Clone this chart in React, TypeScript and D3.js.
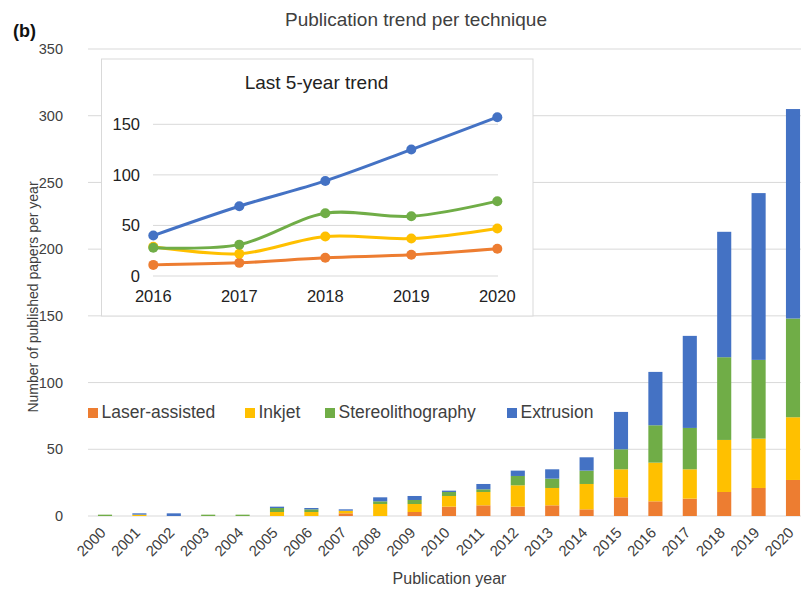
import React, { useMemo } from 'react';
import * as d3 from 'd3';

const years = d3.range(2000, 2021).map(String);
const laser = [0, 0, 0, 0, 0, 0, 0, 2, 0, 3, 7, 8, 7, 8, 5, 14, 11, 13, 18, 21, 27];
const inkjet = [0, 1, 0, 0, 0, 3, 3, 2, 9, 6, 8, 10, 16, 13, 19, 21, 29, 22, 39, 37, 47];
const stereo = [1, 0, 0, 1, 1, 3, 2, 0, 2, 3, 3, 2, 7, 7, 10, 15, 28, 31, 62, 59, 74];
const extrusion = [0, 1, 2, 0, 0, 1, 1, 1, 3, 3, 1, 4, 4, 7, 10, 28, 40, 69, 94, 125, 157];

const seriesNames = ['Laser-assisted', 'Inkjet', 'Stereolithography', 'Extrusion'];
const seriesColors = ['#ED7D31', '#FFC000', '#70AD47', '#4472C4'];
const mainTicks = [0, 50, 100, 150, 200, 250, 300, 350];
const insetTicks = [0, 50, 100, 150];
const insetYears = years.slice(-5);

const FONT = '"Liberation Sans", Arial, Helvetica, sans-serif';
const TEXT = '#404040';
const GRID = '#d9d9d9';

const App = () => {
  const W = 801;
  const H = 592;

  const { x, y, stacked } = useMemo(() => {
    const table = years.map((yr, i) => ({
      year: yr,
      'Laser-assisted': laser[i],
      Inkjet: inkjet[i],
      Stereolithography: stereo[i],
      Extrusion: extrusion[i],
    }));
    const xScale = d3.scaleBand()
      .domain(years)
      .range([87.8, 810.2])
      .paddingInner(0.59)
      .paddingOuter(0.295);
    const yScale = d3.scaleLinear().domain([0, 350]).range([516, 49]);
    const st = d3.stack().keys(seriesNames)(table as any);
    return { x: xScale, y: yScale, stacked: st };
  }, []);

  // inset scales
  const ix = d3.scalePoint().domain(insetYears).range([153.3, 497.3]);
  const iy = d3.scaleLinear().domain([0, 150]).range([276, 124.3]);
  const insetSeries = [laser, inkjet, stereo, extrusion].map(s => s.slice(-5));
  const line = d3.line<number>()
    .x((_, i) => ix(insetYears[i]) as number)
    .y(d => iy(d))
    .curve(d3.curveCatmullRom.alpha(0.5));

  const legendX = [88, 245, 325, 507];

  return (
    <svg width={W} height={H} style={{ position: 'absolute', left: 0, top: 0, fontFamily: FONT }}>
      <rect width={W} height={H} fill="#fff" />

      {/* titles */}
      <text x={13} y={37} fontSize={18} fontWeight="bold" fill="#111">(b)</text>
      <text x={416} y={26} fontSize={19} textAnchor="middle" fill={TEXT}>Publication trend per technique</text>

      {/* gridlines + y ticks */}
      {mainTicks.map(t => (
        <g key={t}>
          <line x1={88} x2={W} y1={y(t)} y2={y(t)} stroke={GRID} strokeWidth={1} />
          <text x={63} y={y(t)} dy="0.35em" fontSize={14.5} textAnchor="end" fill={TEXT}>{t}</text>
        </g>
      ))}

      <text transform="translate(38,297) rotate(-90)" fontSize={14} textAnchor="middle" fill={TEXT}>
        Number of published papers per year
      </text>

      {/* stacked bars */}
      {stacked.map((layer, si) => (
        <g key={seriesNames[si]} fill={seriesColors[si]}>
          {layer.map((d, i) => (
            <rect
              key={years[i]}
              x={x(years[i])}
              width={x.bandwidth()}
              y={y(d[1])}
              height={Math.max(0, y(d[0]) - y(d[1]))}
            />
          ))}
        </g>
      ))}

      {/* x tick labels */}
      {years.map(yr => {
        const cx = (x(yr) as number) + x.bandwidth() / 2;
        return (
          <text key={yr} transform={`translate(${cx - 2},530) rotate(-45)`} dy="0.35em"
            fontSize={15} textAnchor="end" fill={TEXT}>{yr}</text>
        );
      })}
      <text x={449.5} y={584} fontSize={16} textAnchor="middle" fill={TEXT}>Publication year</text>

      {/* legend */}
      {seriesNames.map((name, i) => (
        <g key={name}>
          <rect x={legendX[i]} y={408} width={10} height={10} fill={seriesColors[i]} />
          <text x={legendX[i] + 13.5} y={418} fontSize={17.5} fill={TEXT}>{name}</text>
        </g>
      ))}

      {/* inset */}
      <rect x={101.5} y={59} width={431.5} height={257} fill="#fff" stroke={GRID} strokeWidth={1} />
      <text x={316.5} y={89} fontSize={19} textAnchor="middle" fill="#222">Last 5-year trend</text>
      {insetTicks.map(t => (
        <g key={t}>
          <line x1={153} x2={498} y1={iy(t)} y2={iy(t)} stroke={GRID} strokeWidth={1} />
          <text x={140} y={iy(t)} dy="0.35em" fontSize={16.5} textAnchor="end" fill="#222">{t}</text>
        </g>
      ))}
      {insetYears.map(yr => (
        <text key={yr} x={ix(yr)} y={302} fontSize={16.5} textAnchor="middle" fill="#222">{yr}</text>
      ))}
      {insetSeries.map((s, si) => (
        <g key={seriesNames[si]}>
          <path d={line(s) || ''} fill="none" stroke={seriesColors[si]} strokeWidth={3} />
          {s.map((v, i) => (
            <circle key={i} cx={ix(insetYears[i])} cy={iy(v)} r={5} fill={seriesColors[si]} />
          ))}
        </g>
      ))}
    </svg>
  );
};

export default App;
